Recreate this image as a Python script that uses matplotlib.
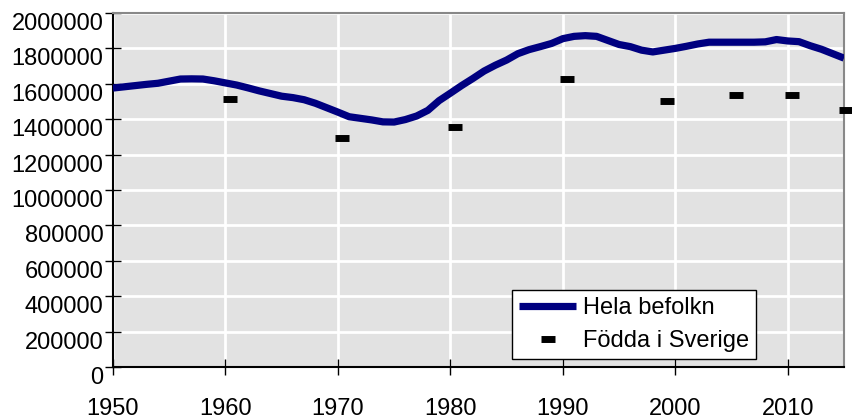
import matplotlib.pyplot as plt

plt.rcParams['font.family'] = ['Liberation Sans', 'DejaVu Sans']

# Hela befolkningen, yearly
years = list(range(1950, 2016))
hela = [1576000, 1583000, 1590000, 1597000, 1603000, 1615000, 1627000, 1628000,
        1627000, 1617000, 1605000, 1593000, 1577000, 1560000, 1545000, 1530000,
        1522000, 1510000, 1490000, 1465000, 1440000, 1414000, 1405000, 1396000,
        1385000, 1384000, 1398000, 1418000, 1450000, 1505000, 1547000, 1590000,
        1630000, 1672000, 1705000, 1734000, 1770000, 1793000, 1810000, 1828000,
        1855000, 1868000, 1872000, 1868000, 1845000, 1822000, 1810000, 1790000,
        1780000, 1790000, 1800000, 1812000, 1825000, 1835000, 1835000, 1835000,
        1835000, 1835000, 1837000, 1850000, 1842000, 1838000, 1815000, 1795000,
        1770000, 1745000]

# Födda i Sverige
fodda_years = [1960.4, 1970.4, 1980.4, 1990.4, 1999.3, 2005.4, 2010.4, 2015.2]
fodda = [1514000, 1293000, 1356000, 1627000, 1503000, 1537000, 1537000, 1452000]

fig = plt.figure(figsize=(8.52, 4.19), dpi=100)
ax = fig.add_axes([0.1326, 0.124, 0.858, 0.845])
ax.set_facecolor('#e2e2e2')

ax.plot(years, hela, color='#000080', lw=5.2, solid_capstyle='butt',
        label='Hela befolkn', zorder=3)
ax.plot(fodda_years, fodda, ls='none', marker='_', ms=10, mew=5,
        color='black', label='Födda i Sverige', clip_on=False, zorder=4)

ax.set_xlim(1950, 2015)
ax.set_ylim(0, 2000000)
ax.set_xticks(range(1950, 2011, 10))
ax.set_yticks(range(0, 2000001, 200000))
ax.ticklabel_format(axis='y', style='plain', useOffset=False)
ax.grid(True, color='white', lw=2)
ax.set_axisbelow(True)

ax.tick_params(direction='inout', length=11, width=1, labelsize=17)
ax.tick_params(axis='x', pad=17)
ax.tick_params(axis='y', pad=1.5)
for lbl in ax.get_yticklabels():
    lbl.set_verticalalignment('top')

for s in ['top', 'right']:
    ax.spines[s].set_color('#888888')
    ax.spines[s].set_linewidth(1.5)
for s in ['left', 'bottom']:
    ax.spines[s].set_color('black')
    ax.spines[s].set_linewidth(1.5)

leg = ax.legend(loc='lower left', bbox_to_anchor=(0.546, 0.0226),
                borderaxespad=0, fontsize=17, fancybox=False,
                framealpha=1, edgecolor='black', handlelength=2.4,
                handletextpad=0.3, labelspacing=0.45, borderpad=0.3)
leg.get_frame().set_linewidth(1)

fig.savefig('out.png', dpi=100)
